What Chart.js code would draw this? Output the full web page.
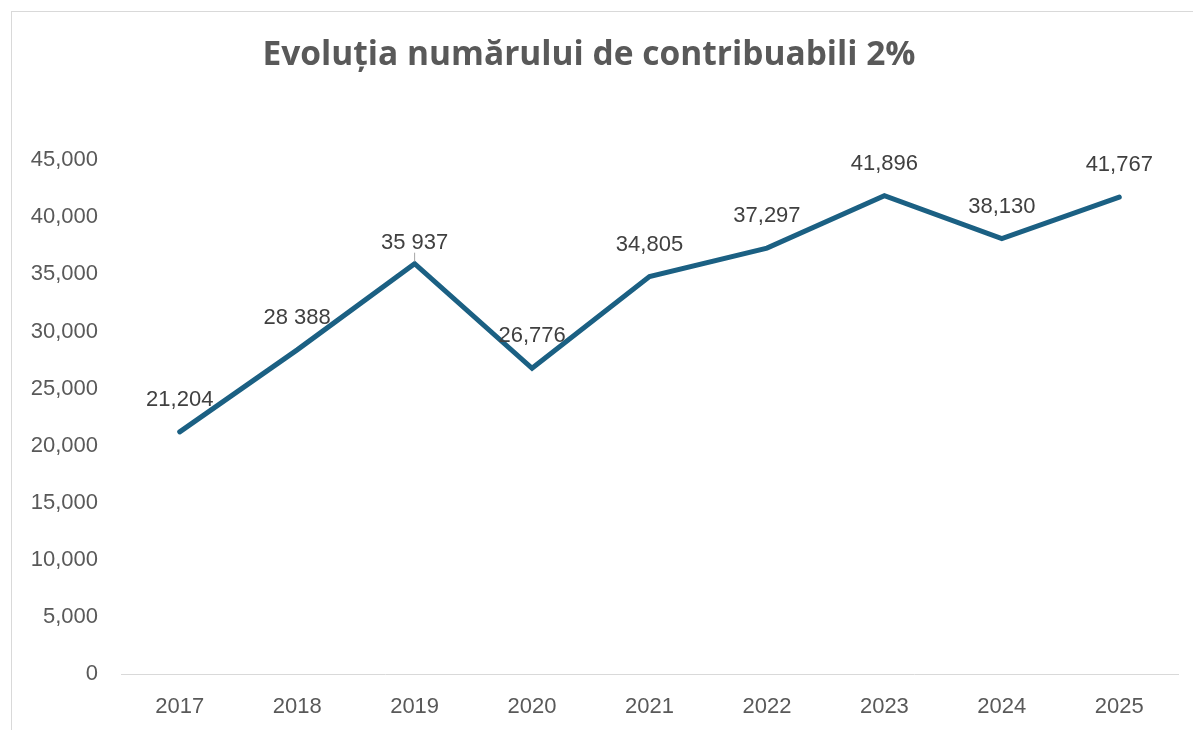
<!DOCTYPE html>
<html>
<head>
<meta charset="utf-8">
<script src="https://cdn.jsdelivr.net/npm/chart.js@4/dist/chart.umd.min.js"></script>
<style>
  html, body { margin: 0; padding: 0; background: #fff; overflow: hidden; }
  #frame { position: absolute; left: 11px; top: 11px; width: 1300px; height: 800px; border: 1px solid #d9d9d9; }
  #wrap { position: absolute; left: 0; top: 0; width: 1193px; height: 730px; }
</style>
</head>
<body>
<div id="frame"></div>
<div id="wrap"><canvas id="contribChart"></canvas></div>
<script>
// Date
const years = ['2017', '2018', '2019', '2020', '2021', '2022', '2023', '2024', '2025'];
const contribuabili = [21204, 28388, 35937, 26776, 34805, 37297, 41896, 38130, 41767];
const valueLabels = ['21,204', '28 388', '35 937', '26,776', '34,805', '37,297', '41,896', '38,130', '41,767'];
const yTicksMax = 45000;
const yTicksStep = 5000;

const FONT = "'Liberation Sans', Arial, sans-serif";

// etichete deasupra punctelor
const valueLabelPlugin = {
  id: 'valueLabels',
  afterDatasetsDraw(chart) {
    const ctx = chart.ctx;
    const meta = chart.getDatasetMeta(0);
    ctx.save();
    ctx.font = '22px ' + FONT;
    ctx.fillStyle = '#404040';
    ctx.textAlign = 'center';
    ctx.textBaseline = 'middle';
    meta.data.forEach((pt, i) => {
      const withLeader = i === 2;
      const dy = withLeader ? 21 : 32;
      if (withLeader) {
        ctx.strokeStyle = '#a6a6a6';
        ctx.lineWidth = 1;
        ctx.beginPath();
        ctx.moveTo(pt.x, pt.y - 2);
        ctx.lineTo(pt.x, pt.y - dy + 10);
        ctx.stroke();
      }
      ctx.fillText(valueLabels[i], pt.x, pt.y - dy);
    });
    ctx.restore();
  }
};

const ctx = document.getElementById('contribChart').getContext('2d');
new Chart(ctx, {
  type: 'line',
  data: {
    labels: years,
    datasets: [{
      label: 'Contribuabili',
      data: contribuabili,
      borderColor: '#1b6083',
      backgroundColor: '#1b6083',
      borderWidth: 5,
      pointRadius: 0,
      tension: 0,
      borderCapStyle: 'round',
      borderJoinStyle: 'miter',
      fill: false
    }]
  },
  options: {
    responsive: true,
    maintainAspectRatio: false,
    animation: false,
    layout: { padding: { left: 0, right: 15, top: 0, bottom: 0 } },
    plugins: {
      legend: { display: false },
      tooltip: { enabled: false },
      title: {
        display: true,
        text: 'Evoluția numărului de contribuabili 2%',
        color: '#595959',
        font: { family: "'Open Sans', " + FONT, size: 33.5, weight: 'bold' },
        padding: { top: 35, bottom: 85 }
      }
    },
    scales: {
      x: {
        offset: true,
        grid: { display: false, drawTicks: false },
        border: { display: true, color: '#d9d9d9', width: 1 },
        ticks: { color: '#595959', font: { family: FONT, size: 22 }, padding: 20 },
        afterFit(scale) { scale.height = 56; }
      },
      y: {
        min: 0,
        max: yTicksMax,
        grid: { display: false, drawTicks: false },
        border: { display: false },
        ticks: {
          stepSize: yTicksStep,
          color: '#595959',
          font: { family: FONT, size: 22 },
          padding: 23,
          callback: v => v.toLocaleString('en-US')
        },
        afterFit(scale) { scale.width = 121; }
      }
    }
  },
  plugins: [valueLabelPlugin]
});
</script>
</body>
</html>
